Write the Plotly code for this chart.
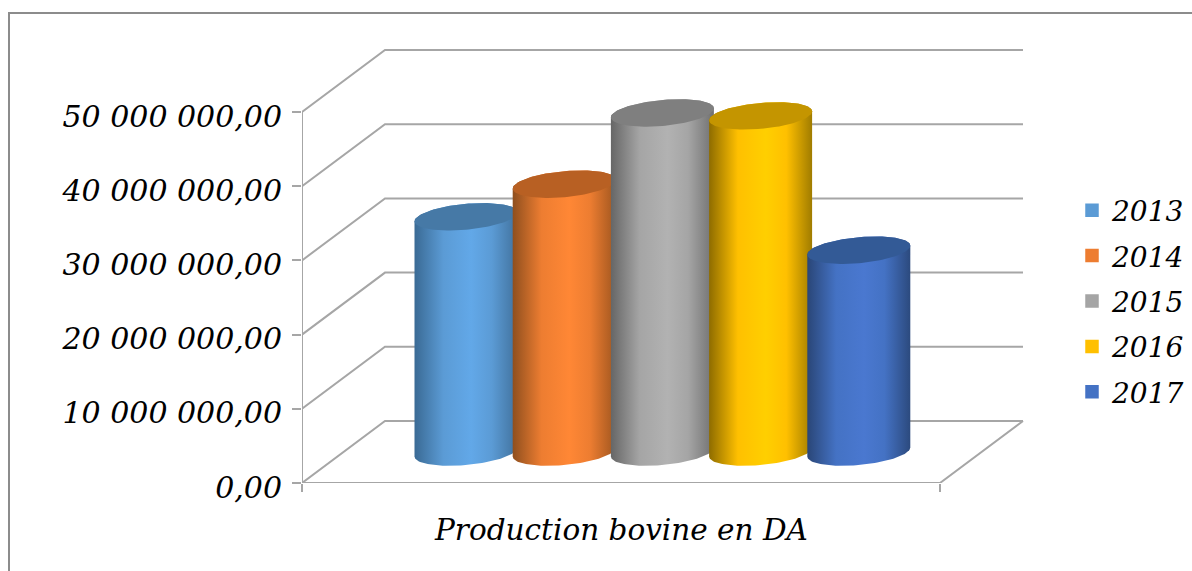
import numpy as np
import plotly.graph_objects as go

years = ["2013", "2014", "2015", "2016", "2017"]
values = [31700000, 36100000, 45700000, 45300000, 27200000]
legend_colors = ["#5B9BD5", "#ED7D31", "#A5A5A5", "#FFC000", "#4472C4"]
top_colors = ["#4679A6", "#B86023", "#7F7F7F", "#C49500", "#335A96"]
edge_left = ["#3A6A94", "#8F4F1E", "#666666", "#8E6C00", "#2A4677"]
centre = ["#62A8E8", "#FF8735", "#B2B2B2", "#FFCF00", "#4A78D0"]
edge_right = ["#41719C", "#A0561F", "#707070", "#A07C00", "#2C4A7E"]
tick_values = [0, 10000000, 20000000, 30000000, 40000000, 50000000]
tick_labels = ["0,00", "10 000 000,00", "20 000 000,00", "30 000 000,00", "40 000 000,00", "50 000 000,00"]
x_title = "Production bovine en DA"

W, H = 1192, 571
PX_LEFT, PX_FRONT, PX_RIGHT, PX_ZERO, PX_TOP = 302, 940, 1030, 483, 40
PX_PER_VAL = 371 / 50000000
PX_PER_CAT = 98.2
PX_FIRST = 466
xr = [(PX_LEFT - PX_FIRST) / PX_PER_CAT, (PX_RIGHT - PX_FIRST) / PX_PER_CAT]
x_front = (PX_FRONT - PX_FIRST) / PX_PER_CAT
yr = [0, (PX_ZERO - PX_TOP) / PX_PER_VAL]
DX = 83 / PX_PER_CAT
DV = 62 / PX_PER_VAL
BASE = 31 / PX_PER_VAL           # cylinder foot, mid-depth of the floor
HALF = 51.5 / PX_PER_CAT
E_B = 13 / PX_PER_VAL
E_S = 4.5 / PX_PER_VAL
BAR_W = 1.8 * HALF

fig = go.Figure()

# floor, left wall and back wall grid
gx, gy = [xr[0], xr[0], None], [0, tick_values[-1], None]
for v in tick_values:
    gx += [xr[0], xr[0] + DX, x_front + DX, None]
    gy += [v, v + DV, v + DV, None]
gx += [xr[0], x_front, x_front + DX, None]
gy += [0, 0, DV, None]
fig.add_trace(go.Scatter(x=gx, y=gy, mode="lines", line=dict(color="#A6A6A6", width=2),
                         hoverinfo="skip", showlegend=False, cliponaxis=False))

t = np.linspace(0, 2 * np.pi, 121)
cos_t, sin_t = np.cos(t), np.sin(t)
for i, (yr_name, v) in enumerate(zip(years, values)):
    fig.add_trace(go.Bar(x=[i], y=[v], base=[BASE], width=BAR_W, name=yr_name, legendgroup=yr_name,
                         marker=dict(color=legend_colors[i], line=dict(color=legend_colors[i], width=1.5)),
                         hovertemplate=yr_name + ": %{y:,.0f}<extra></extra>"))
for i, (yr_name, v) in enumerate(zip(years, values)):
    top = BASE + v
    a = np.linspace(np.pi, 2 * np.pi, 61)     # lower half of an ellipse
    foot = BASE + E_S * np.cos(a) + E_B * np.sin(a)
    b = a[::-1]
    head = top + E_S * np.cos(b) - E_B * np.sin(b)
    body_x = np.concatenate([i + HALF * np.cos(a), i + HALF * np.cos(b)])
    body_y = np.concatenate([foot, head])
    fig.add_trace(go.Scatter(x=body_x, y=body_y, mode="lines", fill="toself", line=dict(width=0),
                             fillgradient=dict(type="horizontal", colorscale=[[0, edge_left[i]], [0.28, legend_colors[i]], [0.55, centre[i]], [0.75, legend_colors[i]], [1, edge_right[i]]]),
                             hoverinfo="skip", showlegend=False, legendgroup=yr_name))
    fig.add_trace(go.Scatter(x=i + HALF * cos_t, y=top + E_S * cos_t + E_B * sin_t, mode="lines", fill="toself",
                             fillcolor=top_colors[i], line=dict(width=0),
                             hoverinfo="skip", showlegend=False, legendgroup=yr_name))

font_family = "DejaVu Serif"
fig.update_layout(
    width=W, height=H, autosize=False, margin=dict(l=0, r=0, t=0, b=0, autoexpand=False),
    paper_bgcolor="white", plot_bgcolor="rgba(0,0,0,0)", barmode="overlay",
    font=dict(family=font_family, color="black"),
    xaxis=dict(domain=[PX_LEFT / W, PX_RIGHT / W], range=xr, showgrid=False, zeroline=False, showline=False,
               ticks="outside", ticklen=8, tickwidth=2, tickcolor="#A6A6A6",
               tickmode="array", tickvals=[xr[0], x_front], ticktext=["", ""]),
    yaxis=dict(domain=[(H - PX_ZERO) / H, (H - PX_TOP) / H], range=yr, showgrid=False, zeroline=False, showline=False,
               ticks="outside", ticklen=9, tickwidth=2, tickcolor="#A6A6A6",
               tickmode="array", tickvals=tick_values, ticktext=tick_labels, ticklabelstandoff=4,
               ticklabelshift=4,
               tickfont=dict(size=30, style="italic", family=font_family, color="black")),
    legend=dict(x=1072 / W, y=(H - 301) / H, xanchor="left", yanchor="middle", tracegroupgap=6,
                itemclick=False, itemdoubleclick=False, bgcolor="rgba(0,0,0,0)",
                font=dict(size=28, style="italic", family=font_family, color="black")),
    annotations=[dict(text=x_title, xref="paper", yref="paper", x=621 / W, y=(H - 530) / H, showarrow=False,
                      xanchor="center", yanchor="middle",
                      font=dict(size=29.5, style="italic", family=font_family, color="black"))],
    shapes=[dict(type="path", xref="paper", yref="paper",
                 path=f"M {9/W} 0 L {9/W} {(H-13)/H} L 1 {(H-13)/H}",
                 line=dict(color="#8C8C8C", width=2))],
)
post = "document.documentElement.style.margin='0';document.body.style.margin='0';document.body.style.overflow='hidden';"
fig.write_html("out.html", post_script=post, config={"displayModeBar": False})
